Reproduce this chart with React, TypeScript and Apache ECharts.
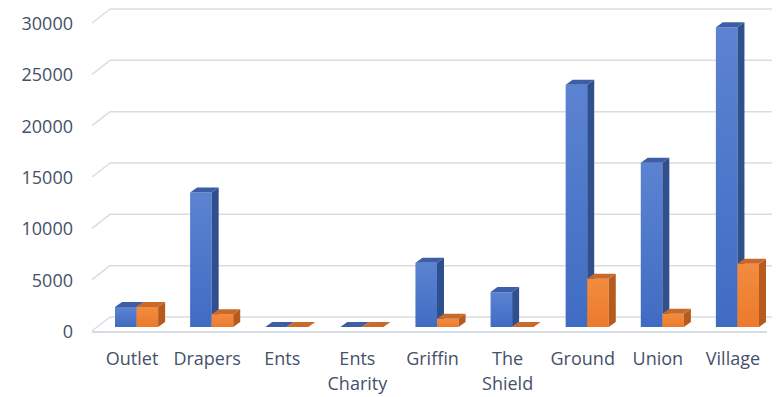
import React, { useEffect, useRef } from "react";
import * as echarts from "echarts";

const categories = ["Outlet", "Drapers", "Ents", "Ents\nCharity", "Griffin", "The\nShield", "Ground", "Union", "Village"];
const seriesBlue = [1950, 13100, 0, 0, 6250, 3400, 23600, 16000, 29200];
const seriesOrange = [1950, 1250, 0, 0, 800, 0, 4700, 1300, 6150];
const yTicks = [0, 5000, 10000, 15000, 20000, 25000, 30000];

const BLUE = {
  front: new echarts.graphic.LinearGradient(0, 0, 0, 1, [
    { offset: 0, color: "#5c83d1" },
    { offset: 1, color: "#3f6cc3" },
  ]),
  side: "#2f4f8e",
  top: "#3d5ea6",
};
const ORANGE = {
  front: new echarts.graphic.LinearGradient(0, 0, 0, 1, [
    { offset: 0, color: "#f28c40" },
    { offset: 1, color: "#eb7a2c" },
  ]),
  side: "#b65b1d",
  top: "#c96a2a",
};

function barRenderer(idx: number) {
  const pal = idx === 0 ? BLUE : ORANGE;
  return (params: any, api: any) => {
    const cat = api.value(0);
    const v = api.value(1);
    const base = api.coord([cat, 0]);
    const top = api.coord([cat, v]);
    const band = api.size([1, 0])[0];
    const w = band * 0.287;
    const x0 = base[0] + (idx === 0 ? -w : 0);
    const x1 = x0 + w;
    const yb = base[1] - 4;
    const yt = top[1] - 4;
    const dx = 7;
    const dy = 5;
    return {
      type: "group",
      children: [
        {
          type: "rect",
          shape: { x: x0, y: yt, width: w, height: Math.max(yb - yt, 0) },
          style: { fill: pal.front },
        },
        {
          type: "polygon",
          shape: { points: [[x1, yb], [x1, yt], [x1 + dx, yt - dy], [x1 + dx, yb - dy]] },
          style: { fill: pal.side },
        },
        {
          type: "polygon",
          shape: { points: [[x0, yt], [x1, yt], [x1 + dx, yt - dy], [x0 + dx, yt - dy]] },
          style: { fill: pal.top },
        },
      ],
    };
  };
}

function wallRenderer(params: any, api: any) {
  const cs = params.coordSys;
  const L = cs.x;
  const W = cs.width;
  const dx = 18;
  const dy = 14;
  const children: any[] = [];
  yTicks.forEach((t) => {
    const yf = api.coord([0, t])[1];
    children.push({
      type: "line",
      shape: { x1: L - 7, y1: yf, x2: L - 7 + dx, y2: yf - dy },
      style: { stroke: "#dcdcdc", lineWidth: 1.5 },
    });
    children.push({
      type: "line",
      shape: { x1: L - 7 + dx, y1: yf - dy, x2: L + W - 3, y2: yf - dy },
      style: { stroke: "#dcdcdc", lineWidth: 1.5 },
    });
  });
  const y0 = api.coord([0, 0])[1];
  children.push({
    type: "line",
    shape: { x1: L - 7, y1: y0 + 1, x2: L + W - 8, y2: y0 + 1 },
    style: { stroke: "#d6dce5", lineWidth: 2 },
  });
  return { type: "group", children };
}

export default function App() {
  const ref = useRef<HTMLDivElement>(null);
  useEffect(() => {
    if (!ref.current) return;
    const chart = echarts.init(ref.current, undefined, { renderer: "svg" });
    chart.setOption({
      animation: false,
      backgroundColor: "#ffffff",
      grid: { left: 99, right: 5, top: 23, bottom: 66 },
      xAxis: {
        type: "category",
        data: categories,
        axisLine: { show: false },
        axisTick: { show: false },
        splitLine: { show: false },
        axisLabel: {
          interval: 0,
          margin: 14,
          fontFamily: "Open Sans",
          fontSize: 18,
          lineHeight: 25,
          color: "#44516a",
          padding: [0, 9, 0, 0],
        },
      },
      yAxis: {
        type: "value",
        min: 0,
        max: 30000,
        interval: 5000,
        axisLine: { show: false },
        axisTick: { show: false },
        splitLine: { show: false },
        axisLabel: {
          margin: 26,
          fontFamily: "Open Sans",
          fontSize: 18,
          color: "#44516a",
          formatter: (v: number) => String(v),
        },
      },
      series: [
        {
          type: "custom",
          name: "walls",
          coordinateSystem: "cartesian2d",
          data: [[0, 0]],
          renderItem: wallRenderer,
          silent: true,
          z: 1,
        },
        {
          type: "custom",
          name: "Series 1",
          coordinateSystem: "cartesian2d",
          data: seriesBlue.map((v, i) => [i, v]),
          encode: { x: 0, y: 1 },
          renderItem: barRenderer(0),
          z: 2,
        },
        {
          type: "custom",
          name: "Series 2",
          coordinateSystem: "cartesian2d",
          data: seriesOrange.map((v, i) => [i, v]),
          encode: { x: 0, y: 1 },
          renderItem: barRenderer(1),
          z: 3,
        },
      ],
    });
    return () => chart.dispose();
  }, []);
  return <div ref={ref} style={{ width: 780, height: 397, position: "absolute", left: 0, top: 0 }} />;
}
